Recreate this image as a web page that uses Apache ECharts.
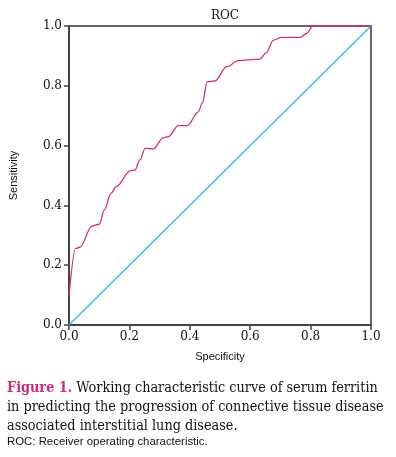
<!DOCTYPE html>
<html>
<head>
<meta charset="utf-8">
<script src="https://cdn.jsdelivr.net/npm/echarts@6/dist/echarts.min.js"></script>
<style>
  html, body { margin: 0; padding: 0; background: #fff; }
  #chart { width: 396px; height: 457px; }
</style>
</head>
<body>
<div id="chart"></div>
<script>
// ROC curve (1 - specificity axis labelled "Specificity")
var rocX = [0, 0.022, 0.036, 0.076, 0.10, 0.117, 0.139, 0.156, 0.204, 0.218, 0.235, 0.252, 0.279,
  0.312, 0.329, 0.362, 0.392, 0.428, 0.441, 0.458, 0.483, 0.522, 0.561, 0.632, 0.652, 0.677,
  0.704, 0.765, 0.787, 0.807, 1.0];
var rocY = [0.095, 0.256, 0.26, 0.331, 0.337, 0.385, 0.44, 0.463, 0.516, 0.518, 0.552, 0.591, 0.589,
  0.626, 0.63, 0.667, 0.667, 0.713, 0.741, 0.814, 0.816, 0.864, 0.884, 0.889, 0.909, 0.953,
  0.962, 0.962, 0.975, 1.0, 1.0];
var refX = [0, 1];
var refY = [0, 1];

var captionLines = [
  'Working characteristic curve of serum ferritin',
  'in predicting the progression of connective tissue disease',
  'associated interstitial lung disease.'
];
var footnote = 'ROC: Receiver operating characteristic.';

function pairs(xs, ys) {
  return xs.map(function (x, i) { return [x, ys[i]]; });
}

var chart = echarts.init(document.getElementById('chart'));

var serif = 'DejaVu Serif';
var capFont = '"DejaVu Serif Condensed", "Liberation Serif"';
var sans = 'Liberation Sans';

var valueAxis = function (name, gap, rotate) {
  return {
    type: 'value', min: 0, max: 1, interval: 0.2,
    name: name, nameLocation: 'middle', nameGap: gap, nameRotate: rotate,
    nameTextStyle: { fontFamily: sans, fontSize: 11, color: '#111' },
    axisLine: { show: true, lineStyle: { color: '#444', width: 2 } },
    axisTick: { show: true, length: 5, lineStyle: { color: '#444', width: 1.5 } },
    axisLabel: {
      fontFamily: serif, fontSize: 12, color: '#111', margin: 6,
      formatter: function (v) { return v.toFixed(1); }
    },
    splitLine: { show: false }
  };
};

var xAx = valueAxis('Specificity', 26, 0);
var yAx = valueAxis('Sensitivity', 50, 90);
yAx.axisLabel.margin = 7;

chart.setOption({
  animation: false,
  backgroundColor: '#fff',
  grid: { left: 69, top: 26, width: 302, height: 299, show: true,
    borderColor: '#333', borderWidth: 1.5, backgroundColor: 'transparent' },
  title: {
    text: 'ROC', left: 220, top: 5, textAlign: 'center',
    textStyle: { fontFamily: serif, fontSize: 12, fontWeight: 'normal', color: '#111' }
  },
  xAxis: xAx,
  yAxis: yAx,
  series: [
    {
      type: 'line', data: pairs(refX, refY), showSymbol: false,
      lineStyle: { color: '#2bbfd6', width: 1.3 }
    },
    {
      type: 'line', data: pairs(rocX, rocY), showSymbol: false,
      smooth: 0.35, smoothMonotone: 'x',
      lineStyle: { color: '#cf2e80', width: 1.3 }
    }
  ],
  graphic: [
    {
      type: 'text', left: 7, top: 381,
      style: {
        text: '{b|Figure 1.} ' + captionLines[0],
        font: '14.3px ' + capFont, fill: '#111',
        rich: { b: { fontFamily: capFont, fontSize: 14.3, fontWeight: 'bold', fill: '#cc2a7c', color: '#cc2a7c' } }
      }
    },
    { type: 'text', left: 7, top: 400, style: { text: captionLines[1], font: '14.3px ' + capFont, fill: '#111' } },
    { type: 'text', left: 7, top: 419, style: { text: captionLines[2], font: '14.3px ' + capFont, fill: '#111' } },
    { type: 'text', left: 7, top: 436, style: { text: footnote, font: '11.4px ' + sans, fill: '#111' } }
  ]
});
</script>
</body>
</html>
